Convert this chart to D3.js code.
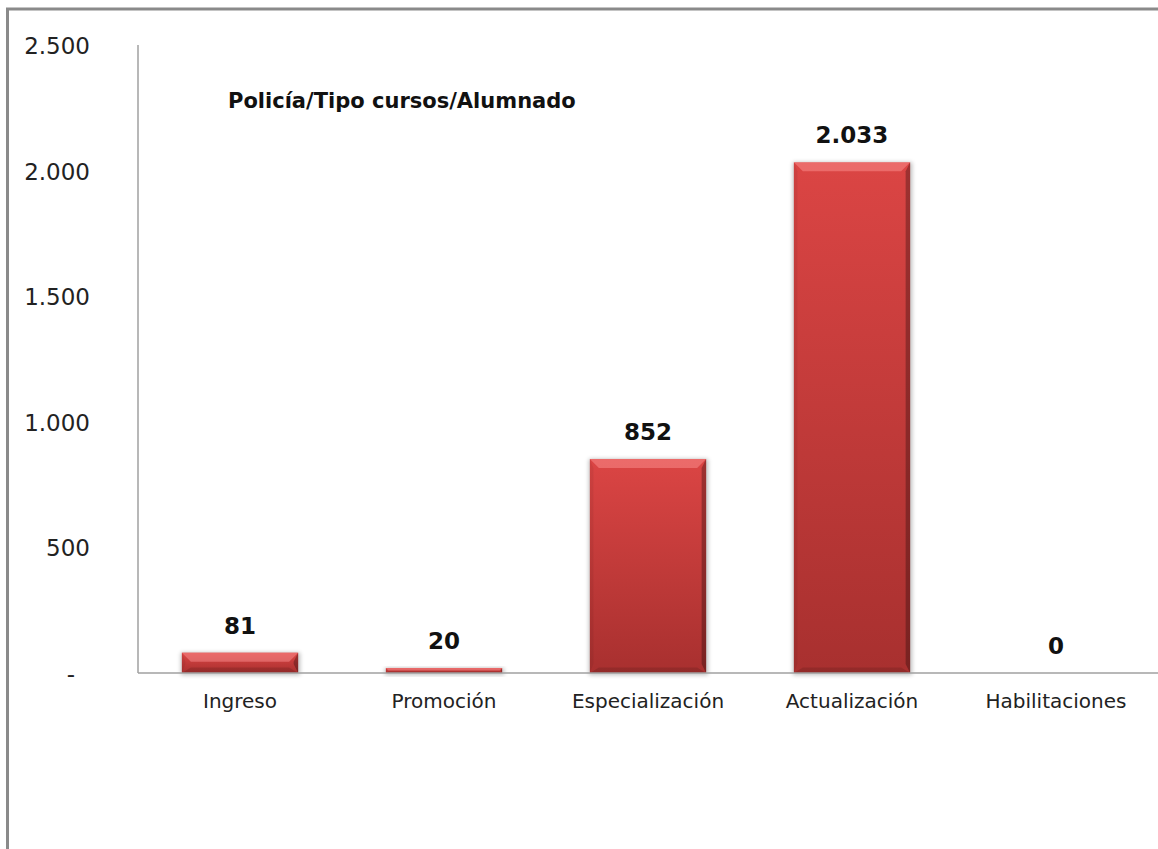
<!DOCTYPE html>
<html lang="es">
<head>
    <meta charset="UTF-8">
    <title>Policía/Tipo cursos/Alumnado</title>
    <script src="https://d3js.org/d3.v7.min.js"></script>
    <style>
        body {
            margin: 0;
            padding: 0;
            background: #fff;
            font-family: "DejaVu Sans", sans-serif;
        }
        #chart {
            width: 1158px;
            height: 849px;
            overflow: hidden;
        }
        .tick-label { font-size: 23px; fill: #222; }
        .cat-label { font-size: 20px; fill: #222; }
        .value-label { font-size: 23px; font-weight: bold; fill: #111; }
        .title { font-size: 21px; font-weight: bold; fill: #111; }
    </style>
</head>
<body>
    <div id="chart"></div>
    <script>
        // Chart data
        const categories = ["Ingreso", "Promoción", "Especialización", "Actualización", "Habilitaciones"];
        const values = [81, 20, 852, 2033, 0];
        const yTicks = [0, 500, 1000, 1500, 2000, 2500];
        const chartTitle = "Policía/Tipo cursos/Alumnado";

        const width = 1158;
        const height = 849;
        const margin = { top: 45, right: 0, bottom: 176, left: 138 };

        const locale = d3.formatLocale({ decimal: ",", thousands: ".", grouping: [3], currency: ["", " €"] });
        const fmt = locale.format(",d");

        const svg = d3.select("#chart")
            .append("svg")
            .attr("width", width)
            .attr("height", height);

        const defs = svg.append("defs");

        // Vertical gradient for the bar faces
        const grad = defs.append("linearGradient")
            .attr("id", "barGrad")
            .attr("x1", 0).attr("y1", 0).attr("x2", 0).attr("y2", 1);
        grad.append("stop").attr("offset", "0%").attr("stop-color", "#db4544");
        grad.append("stop").attr("offset", "100%").attr("stop-color", "#a8302f");

        const shadow = defs.append("filter")
            .attr("id", "shadow")
            .attr("x", "-20%").attr("y", "-20%")
            .attr("width", "140%").attr("height", "140%");
        shadow.append("feGaussianBlur").attr("stdDeviation", 2);

        // Outer frame (chart area border, cut by the screenshot on right/bottom)
        svg.append("rect")
            .attr("x", 7.5)
            .attr("y", 9)
            .attr("width", width + 20)
            .attr("height", height + 20)
            .attr("fill", "none")
            .attr("stroke", "#8a8a8a")
            .attr("stroke-width", 3);

        const x = d3.scaleBand()
            .domain(categories)
            .range([margin.left, width - margin.right])
            .paddingInner(0.43)
            .paddingOuter(0.215);

        const y = d3.scaleLinear()
            .domain([0, 2500])
            .range([height - margin.bottom, margin.top]);

        // Axis lines
        svg.append("line")
            .attr("x1", margin.left).attr("x2", margin.left)
            .attr("y1", y(2500)).attr("y2", y(0))
            .attr("stroke", "#a0a0a0")
            .attr("stroke-width", 1.5);

        // Y tick labels
        svg.selectAll(".tick-label")
            .data(yTicks)
            .enter()
            .append("text")
            .attr("class", "tick-label")
            .attr("x", d => d === 0 ? 75 : 90)
            .attr("y", d => y(d) + 9)
            .attr("text-anchor", "end")
            .text(d => d === 0 ? "-" : fmt(d));

        // Bars with bevel
        const bars = svg.selectAll(".bar")
            .data(categories.map((c, i) => ({ cat: c, value: values[i] })).filter(d => d.value > 0))
            .enter()
            .append("g")
            .attr("class", "bar");

        bars.each(function(d) {
            const g = d3.select(this);
            const bx = x(d.cat);
            const bw = x.bandwidth();
            const by = y(d.value);
            const bh = y(0) - by;
            const b = Math.min(9, bh / 2);

            g.append("rect")
                .attr("x", bx - 1).attr("y", by)
                .attr("width", bw + 3).attr("height", bh + 2)
                .attr("fill", "#000")
                .attr("opacity", 0.25)
                .attr("filter", "url(#shadow)");

            g.append("rect")
                .attr("x", bx).attr("y", by)
                .attr("width", bw).attr("height", bh)
                .attr("fill", "url(#barGrad)");

            const poly = (pts, fill, op) => g.append("polygon")
                .attr("points", pts.map(p => p.join(",")).join(" "))
                .attr("fill", fill)
                .attr("opacity", op);

            // top bevel
            poly([[bx, by], [bx + bw, by], [bx + bw - b, by + b], [bx + b, by + b]], "#ff9a9a", 0.45);
            // left bevel
            poly([[bx, by], [bx + b * 0.4, by + b], [bx + b * 0.4, by + bh - b], [bx, by + bh]], "#000", 0.06);
            // right bevel
            poly([[bx + bw, by], [bx + bw - b * 0.5, by + b], [bx + bw - b * 0.5, by + bh - b], [bx + bw, by + bh]], "#000", 0.28);
            // bottom bevel
            poly([[bx, by + bh], [bx + bw, by + bh], [bx + bw - b, by + bh - b * 0.6], [bx + b, by + bh - b * 0.6]], "#000", 0.12);
        });

        // X axis line (drawn over bar bottoms)
        svg.append("line")
            .attr("x1", margin.left).attr("x2", width)
            .attr("y1", y(0)).attr("y2", y(0))
            .attr("stroke", "#a0a0a0")
            .attr("stroke-width", 1.5);

        // Value labels
        svg.selectAll(".value-label")
            .data(values)
            .enter()
            .append("text")
            .attr("class", "value-label")
            .attr("x", (d, i) => x(categories[i]) + x.bandwidth() / 2)
            .attr("y", d => y(d) - 19)
            .attr("text-anchor", "middle")
            .text(d => fmt(d));

        // Category labels
        svg.selectAll(".cat-label")
            .data(categories)
            .enter()
            .append("text")
            .attr("class", "cat-label")
            .attr("x", d => x(d) + x.bandwidth() / 2)
            .attr("y", y(0) + 35)
            .attr("text-anchor", "middle")
            .text(d => d);

        // Title
        svg.append("text")
            .attr("class", "title")
            .attr("x", 228)
            .attr("y", 108)
            .text(chartTitle);
    </script>
</body>
</html>
